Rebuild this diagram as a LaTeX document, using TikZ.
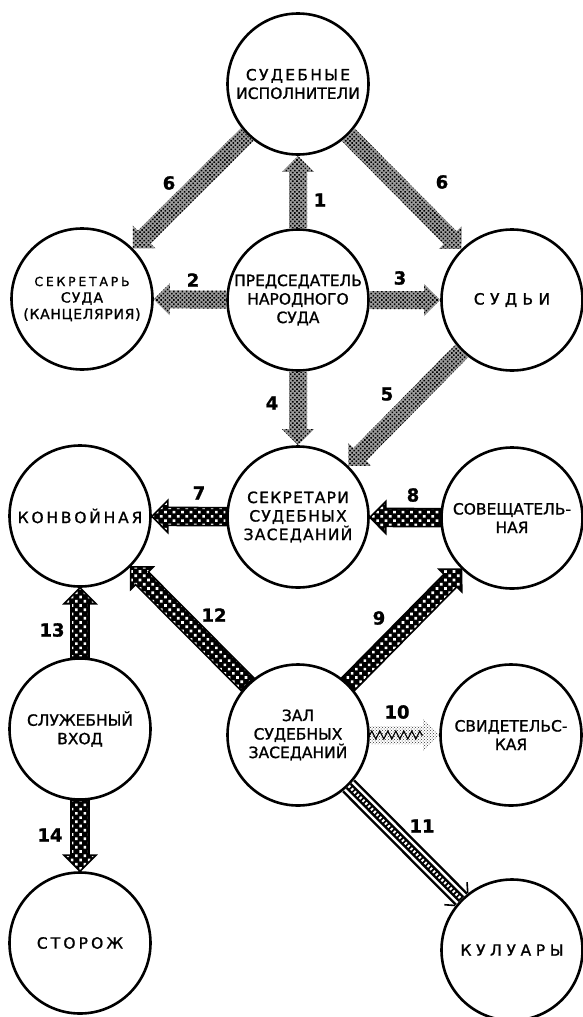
\documentclass[tikz,border=0pt]{standalone}
\usepackage{fontspec}
\setmainfont{DejaVu Sans}[FakeBold=1.2]
\usetikzlibrary{calc,patterns,patterns.meta,decorations.pathmorphing}

\tikzdeclarepattern{
  name=holes, type=uncolored,
  bounding box={(-3pt,-3pt) and (3pt,3pt)},
  tile size={(6pt,6pt)},
  tile transformation={rotate=45},
  code={\pgfpathcircle{\pgfpointorigin}{1.9pt}\pgfusepath{fill}}
}
\tikzdeclarepattern{
  name=halftone, type=uncolored,
  bounding box={(-1.5pt,-1.5pt) and (1.5pt,1.5pt)},
  tile size={(3pt,3pt)},
  tile transformation={rotate=45},
  code={\pgfpathcircle{\pgfpointorigin}{1.1pt}\pgfusepath{fill}}
}

\newcommand\ls[2]{{\addfontfeature{LetterSpace=#1}#2}}

\newcommand\blockarrow[3]{%
  \path (#2) -- (#3) coordinate[pos=0] (ba) coordinate[pos=1] (bb);
  \coordinate (bh) at ($(bb)!16pt!(ba)$);
  \path[#1] ($(ba)!9pt!90:(bb)$) -- ($(bh)!9pt!90:(bb)$) -- ($(bh)!16pt!90:(bb)$)
    -- (bb) -- ($(bh)!16pt!-90:(bb)$) -- ($(bh)!9pt!-90:(bb)$) -- ($(ba)!9pt!-90:(bb)$) -- cycle;
}

\tikzset{
  room/.style={circle, draw, line width=2.6pt, minimum size=141pt, inner sep=0pt,
    align=center, font=\fontsize{15.5}{18.5}\selectfont},
  num/.style={font=\bfseries\fontsize{18}{18}\selectfont, inner sep=0pt},
  lightarrow/.style={preaction={fill=black!38}, pattern=halftone, pattern color=black},
  darkarrow/.style={fill=black, postaction={pattern=holes, pattern color=white},
    postaction={draw=black, line width=1.6pt, line join=miter}},
  zigarrow/.style={pattern=crosshatch dots, pattern color=black!80},
}

\begin{document}
\begin{tikzpicture}[x=1pt,y=-1pt]
\useasboundingbox (0,0) rectangle (582,1017);

\node[room] (ispol) at (298,84) {\ls{15}{СУДЕБНЫЕ}\\ИСПОЛНИТЕЛИ};
\node[room, font=\fontsize{14}{16.5}\selectfont] (sekr) at (82,299)
  {{\fontsize{12.5}{15}\selectfont\ls{22}{СЕКРЕТАРЬ}}\\\ls{8}{СУДА}\\\ls{5}{(КАНЦЕЛЯРИЯ)}};
\node[room] (pred) at (298,300) {ПРЕДСЕДАТЕЛЬ\\НАРОДНОГО\\СУДА};
\node[room] (sudi) at (512,300) {\ls{35}{СУДЬИ}};
\node[room] (konv) at (80,516) {\ls{18}{КОНВОЙНАЯ}};
\node[room] (sekrz) at (298,517) {\ls{8}{СЕКРЕТАРИ}\\\ls{8}{СУДЕБНЫХ}\\\ls{8}{ЗАСЕДАНИЙ}};
\node[room] (sovesh) at (512,518) {СОВЕЩАТЕЛЬ-\\НАЯ};
\node[room] (sluzh) at (80,729) {СЛУЖЕБНЫЙ\\ВХОД};
\node[room] (zal) at (298,735) {ЗАЛ\\СУДЕБНЫХ\\ЗАСЕДАНИЙ};
\node[room] (svid) at (511,735) {СВИДЕТЕЛЬС-\\КАЯ};
\node[room] (storozh) at (80,943) {\ls{20}{СТОРОЖ}};
\node[room] (kul) at (512,950) {\ls{30}{КУЛУАРЫ}};

\blockarrow{lightarrow}{pred}{ispol}
\blockarrow{lightarrow}{pred}{sekr}
\blockarrow{lightarrow}{pred}{sudi}
\blockarrow{lightarrow}{pred}{sekrz}
\blockarrow{lightarrow}{sudi}{sekrz}
\blockarrow{lightarrow}{ispol}{sekr}
\blockarrow{lightarrow}{ispol}{sudi}
\blockarrow{darkarrow}{sekrz}{konv}
\blockarrow{darkarrow}{sovesh}{sekrz}
\blockarrow{darkarrow}{zal}{sovesh}
\blockarrow{darkarrow}{zal}{konv}
\blockarrow{darkarrow}{sluzh}{konv}
\blockarrow{darkarrow}{sluzh}{storozh}
\blockarrow{zigarrow}{zal}{svid}
\draw[decorate, decoration={zigzag, segment length=8pt, amplitude=4pt}, line width=1.2pt] (ba) -- (bh);

% arrow 11: triple line
\path (zal) -- (kul) coordinate[pos=0] (ca) coordinate[pos=1] (cb);
\coordinate (ch) at ($(cb)!8pt!(ca)$);
\draw[line width=18pt] (ca) -- (cb);
\draw[line width=13pt, white] (ca) -- (cb);
\draw[line width=8pt] (ca) -- (cb);
\draw[line width=3pt, white, dash pattern=on 2pt off 2pt] (ca) -- (cb);
\draw[line width=1.6pt] ($(cb)!9pt!90:(ca)$) -- ($(ch)!16pt!-90:(cb)$);
\draw[line width=1.6pt] ($(cb)!9pt!-90:(ca)$) -- ($(ch)!16pt!90:(cb)$);

\node[num] (l1) at (320,200) {1};
\node[num] (l2) at (193,280) {2};
\node[num] (l3) at (400,278) {3};
\node[num] (l4) at (272,403) {4};
\node[num] (l5) at (387,394) {5};
\node[num] (l6a) at (169,183) {6};
\node[num] (l6b) at (442,182) {6};
\node[num] (l7) at (199,493) {7};
\node[num] (l8) at (413,495) {8};
\node[num] (l9) at (379,618) {9};
\node[num] (l10) at (397,712) {10};
\node[num] (l11) at (422,826) {11};
\node[num] (l12) at (214,615) {12};
\node[num] (l13) at (52,630) {13};
\node[num] (l14) at (50,835) {14};
\end{tikzpicture}
\end{document}
